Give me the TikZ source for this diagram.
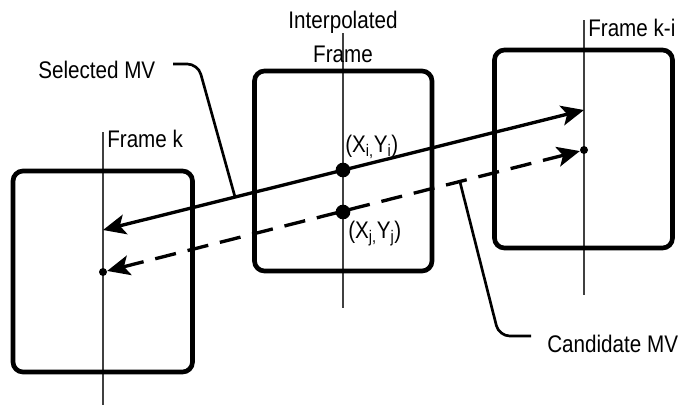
\documentclass[tikz,border=0pt]{standalone}
\usepackage{fontspec}
\setmainfont{Liberation Sans}[FakeStretch=0.86]
\usetikzlibrary{arrows.meta}
\begin{document}
\begin{tikzpicture}[x=0.75pt,y=-0.75pt,
  framebox/.style={draw, line width=3.5pt, rounded corners=7.5pt, inner sep=0pt},
  axis/.style={draw=black!75, line width=0.8pt},
  bigdot/.style={circle, fill, inner sep=0pt, minimum size=11pt},
  smalldot/.style={circle, fill, inner sep=0pt, minimum size=6pt},
  mvtip/.tip={Stealth[length=17pt,width=15pt,inset=4pt]},
  mv/.style={line width=2.5pt, mvtip-mvtip},
  cand/.style={mv, dash pattern=on 16pt off 9pt},
  leader/.style={line width=2pt, rounded corners=8pt},
  lbl/.style={font=\fontsize{18}{21}\selectfont, inner sep=0pt, anchor=base west},
]
\useasboundingbox (0,0) rectangle (678,405);

% frame axes
\draw[axis] (103,132) -- (103,405);
\draw[axis] (343,33) -- (343,308);
\draw[axis] (584,20) -- (584,295);

% the three frames
\node[framebox, minimum width=134.6pt, minimum height=150.75pt] (fk)  at (102.75,271.5) {};
\node[framebox, minimum width=133.1pt, minimum height=150pt]    (fint) at (343.25,171) {};
\node[framebox, minimum width=133.5pt, minimum height=148.5pt]  (fki) at (583.5,149) {};

% frame labels
\node[lbl] (lk)  at (107,147) {Frame k};
\node[lbl] (lki) at (588,36) {Frame k-i};
\node[lbl, anchor=base] (lint1) at (343,28.5) {Interpolated};
\node[lbl, anchor=base] (lint2) at (343,62) {Frame};

% interpolated points
\node[bigdot] (pi) at (343,170) {};
\node[bigdot] (pj) at (343,212) {};
\node[lbl] (lpi) at (345,152) {(X\textsubscript{i,}Y\textsubscript{i})};
\node[lbl] (lpj) at (348,238) {(X\textsubscript{j,}Y\textsubscript{j})};

% motion vector end points
\coordinate (tR) at (584,110);
\coordinate (tL) at (103,230);
\node[smalldot] (dR) at (584,150) {};
\node[smalldot] (dL) at (103,272) {};

% selected and candidate motion vectors
\draw[mv] (tL) -- (tR);
\draw[cand] (dL) -- (dR);

% callouts
\node[lbl] (lsel)  at (38,78)   {Selected MV};
\node[lbl] (lcand) at (547,352) {Candidate MV};
\coordinate (selA) at (173,64);
\coordinate (selB) at (235,197);
\coordinate (candA) at (460,182);
\coordinate (candB) at (531,336);
\draw[leader] (selA) -- (198,64) -- (selB);
\draw[leader] (candA) -- (499,336) -- (candB);
\end{tikzpicture}
\end{document}
